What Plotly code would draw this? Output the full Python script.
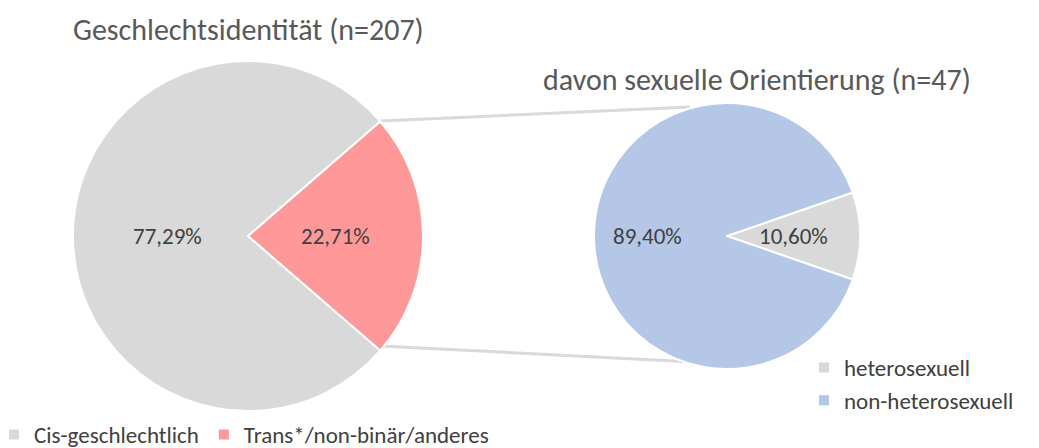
import math
import plotly.graph_objects as go

# ---- data ----
gender_labels = ["Cis-geschlechtlich", "Trans*/non-binär/anderes"]
gender_values = [77.29, 22.71]
gender_colors = ["#d9d9d9", "#ff9999"]

orient_labels = ["heterosexuell", "non-heterosexuell"]
orient_values = [10.60, 89.40]
orient_colors = ["#d9d9d9", "#b4c7e7"]

title_left = "Geschlechtsidentität (n=207)"
title_right = "davon sexuelle Orientierung (n=47)"

W, H = 1039, 448
FONT = "Carlito, Lato, Open Sans, sans-serif"
TXT = "#404040"


def fmt(v):
    return f"{v:.2f}".replace(".", ",") + "%"


def px(x, y):
    return x / W, 1 - y / H


# pie geometry (pixels): left centre (248,236) r 175 ; right centre (727,236) r 133
LEFT = dict(cx=248, cy=236, r=175)
RIGHT = dict(cx=727, cy=236, r=133)


def domain(g):
    x0, y1 = px(g["cx"] - g["r"], g["cy"] - g["r"])
    x1, y0 = px(g["cx"] + g["r"], g["cy"] + g["r"])
    return dict(x=[x0, x1], y=[y0, y1])


trans_share = gender_values[1] / sum(gender_values) * 360
het_share = orient_values[0] / sum(orient_values) * 360
rot_left = 90 + trans_share / 2
rot_right = 90 - het_share / 2

fig = go.Figure()
fig.add_trace(go.Pie(
    labels=gender_labels, values=gender_values,
    text=[fmt(v) for v in gender_values], textinfo="none",
    marker=dict(colors=gender_colors, line=dict(color="white", width=2)),
    sort=False, direction="counterclockwise", rotation=rot_left,
    domain=domain(LEFT), legend="legend", hoverinfo="label+text",
))
fig.add_trace(go.Pie(
    labels=orient_labels, values=orient_values,
    text=[fmt(v) for v in orient_values], textinfo="none",
    marker=dict(colors=orient_colors, line=dict(color="white", width=2)),
    sort=False, direction="counterclockwise", rotation=rot_right,
    domain=domain(RIGHT), legend="legend2", hoverinfo="label+text",
))


def slice_labels(values, rotation, geom, radial):
    """Place value labels at the mid-angle of each slice (counterclockwise
    pie where the first slice spans [rotation, rotation+share] clockwise)."""
    total = sum(values)
    shares = [v / total * 360 for v in values]
    mids = [rotation + shares[0] / 2]
    edge = rotation
    for s in shares[1:]:
        mids.append(edge - s / 2)
        edge -= s
    for v, m, k in zip(values, mids, radial):
        a = math.radians(m)
        x = geom["cx"] + k * geom["r"] * math.sin(a)
        y = geom["cy"] - k * geom["r"] * math.cos(a)
        xp, yp = px(x, y)
        fig.add_annotation(text=fmt(v), xref="paper", yref="paper",
                           x=xp, y=yp, xanchor="center", yanchor="middle",
                           showarrow=False,
                           font=dict(size=23, color=TXT, family=FONT))


slice_labels(gender_values, rot_left, LEFT, [0.46, 0.50])
slice_labels(orient_values, rot_right, RIGHT, [0.50, 0.60])

# connector lines
for (a, b), (c, d) in [((380, 121), (690, 107)), ((381, 346), (713, 363))]:
    x0, y0 = px(a, b)
    x1, y1 = px(c, d)
    fig.add_shape(type="line", xref="paper", yref="paper",
                  x0=x0, y0=y0, x1=x1, y1=y1,
                  line=dict(color="#d9d9d9", width=3), layer="below")

fig.add_annotation(text=title_left, xref="paper", yref="paper",
                   x=248 / W, y=1 - 29 / H, xanchor="center", yanchor="middle",
                   showarrow=False,
                   font=dict(size=30, color="#595959", family=FONT))
fig.add_annotation(text=title_right, xref="paper", yref="paper",
                   x=757 / W, y=1 - 79 / H, xanchor="center", yanchor="middle",
                   showarrow=False,
                   font=dict(size=30, color="#595959", family=FONT))

fig.update_layout(
    width=W, height=H,
    margin=dict(l=0, r=0, t=0, b=0, autoexpand=False),
    paper_bgcolor="white", plot_bgcolor="white",
    font=dict(family=FONT, color=TXT),
    legend=dict(orientation="h", x=-6 / W, y=-8 / H,
                xanchor="left", yanchor="bottom",
                font=dict(size=23, color=TXT, family=FONT),
                itemwidth=30),
    legend2=dict(orientation="v", x=804 / W, y=1 - 346 / H,
                 xanchor="left", yanchor="top",
                 font=dict(size=23, color=TXT, family=FONT),
                 tracegroupgap=6),
)

fig.write_html("out.html", config={"displayModeBar": False},
               post_script="document.body.style.margin='0px';")
